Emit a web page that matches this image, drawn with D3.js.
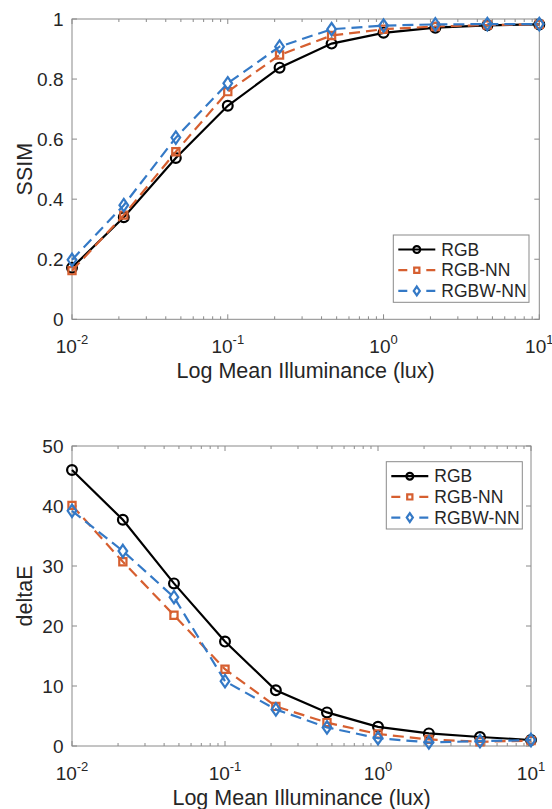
<!DOCTYPE html>
<html>
<head>
<meta charset="utf-8">
<script src="https://cdn.jsdelivr.net/npm/d3@7"></script>
<style>
  html, body { margin: 0; padding: 0; background: #fff; }
  svg { display: block; }
  text { font-family: "Liberation Sans", Arial, Helvetica, sans-serif; fill: #262626; }
</style>
</head>
<body>
<svg id="chart" width="552" height="809"></svg>
<script>
// ---------- data ----------
const illuminance = [0.01, 0.0215, 0.0464, 0.1, 0.215, 0.464, 1, 2.15, 4.64, 10];
const seriesNames = ["RGB", "RGB-NN", "RGBW-NN"];

const ssimRGB    = [0.172, 0.340, 0.537, 0.711, 0.838, 0.918, 0.954, 0.971, 0.979, 0.982];
const ssimRGBNN  = [0.162, 0.347, 0.558, 0.758, 0.880, 0.945, 0.966, 0.975, 0.980, 0.982];
const ssimRGBWNN = [0.198, 0.380, 0.605, 0.786, 0.908, 0.966, 0.978, 0.982, 0.983, 0.983];

const dERGB    = [46.0, 37.7, 27.1, 17.4, 9.3, 5.6, 3.2, 2.1, 1.5, 1.0];
const dERGBNN  = [40.1, 30.7, 21.8, 12.8, 6.6, 3.9, 2.0, 1.1, 0.7, 0.9];
const dERGBWNN = [39.2, 32.5, 24.8, 10.8, 6.1, 3.1, 1.3, 0.6, 0.8, 1.0];

const xTicks = [0.01, 0.1, 1, 10];
const xTickExp = ["-2", "-1", "0", "1"];
const ssimTicks = [0, 0.2, 0.4, 0.6, 0.8, 1];
const ssimTickLabels = ["0", "0.2", "0.4", "0.6", "0.8", "1"];
const dETicks = [0, 10, 20, 30, 40, 50];
const dETickLabels = ["0", "10", "20", "30", "40", "50"];

const xLabel = "Log Mean Illuminance (lux)";

// ---------- styles ----------
const colors = ["#000000", "#d65f30", "#3479c6"];
const dashes = [null, "11,6", "11,6"];
const markers = ["circle", "square", "diamond"];
const axisColor = "#8a8a8a";

const svg = d3.select("#chart");

function markerPath(type, s) {
  if (type === "circle") return d3.symbol().type(d3.symbolCircle).size(Math.PI * s * s)();
  if (type === "square") return `M${-s},${-s}H${s}V${s}H${-s}Z`;
  const w = s * 0.8, h = s * 1.15;
  return `M0,${-h}L${w},0L0,${h}L${-w},0Z`;
}

function drawPanel(cfg) {
  const { left, right, top, bottom, yDomain, yTicks, yTickLabels, yLabel, series, legend } = cfg;
  const x = d3.scaleLog().domain([0.01, 10]).range([left, right]);
  const y = d3.scaleLinear().domain(yDomain).range([bottom, top]);
  const g = svg.append("g");

  const minor = [];
  for (let e = -2; e < 1; e++) for (let m = 2; m <= 9; m++) minor.push(m * Math.pow(10, e));
  g.selectAll(".minb").data(minor).join("line")
    .attr("x1", d => x(d)).attr("x2", d => x(d))
    .attr("y1", bottom).attr("y2", bottom - 3)
    .attr("stroke", axisColor).attr("stroke-width", 1);
  g.selectAll(".mint").data(minor).join("line")
    .attr("x1", d => x(d)).attr("x2", d => x(d))
    .attr("y1", top).attr("y2", top + 3)
    .attr("stroke", axisColor).attr("stroke-width", 1);
  g.selectAll(".majb").data(xTicks).join("line")
    .attr("x1", d => x(d)).attr("x2", d => x(d))
    .attr("y1", bottom).attr("y2", bottom - 5)
    .attr("stroke", axisColor).attr("stroke-width", 1);
  g.selectAll(".majt").data(xTicks).join("line")
    .attr("x1", d => x(d)).attr("x2", d => x(d))
    .attr("y1", top).attr("y2", top + 5)
    .attr("stroke", axisColor).attr("stroke-width", 1);
  g.selectAll(".yl").data(yTicks).join("line")
    .attr("x1", left).attr("x2", left + 5)
    .attr("y1", d => y(d)).attr("y2", d => y(d))
    .attr("stroke", axisColor).attr("stroke-width", 1);
  g.selectAll(".yr").data(yTicks).join("line")
    .attr("x1", right).attr("x2", right - 5)
    .attr("y1", d => y(d)).attr("y2", d => y(d))
    .attr("stroke", axisColor).attr("stroke-width", 1);

  g.append("rect").attr("x", left).attr("y", top)
    .attr("width", right - left).attr("height", bottom - top)
    .attr("fill", "none").attr("stroke", axisColor).attr("stroke-width", 1);

  const xl = g.selectAll(".xtl").data(xTicks).join("text")
    .attr("x", d => x(d)).attr("y", bottom + 33.5)
    .attr("text-anchor", "middle").attr("font-size", 19);
  xl.append("tspan").text("10");
  xl.append("tspan").attr("dy", -9).attr("font-size", 13).text((d, i) => xTickExp[i]);

  g.selectAll(".ytl").data(yTicks).join("text")
    .attr("x", left - 8.5).attr("y", d => y(d) + 6.8)
    .attr("text-anchor", "end").attr("font-size", 19)
    .text((d, i) => yTickLabels[i]);

  g.append("text").attr("x", (left + right) / 2).attr("y", bottom + 58.5)
    .attr("text-anchor", "middle").attr("font-size", 21.5).text(xLabel);
  g.append("text")
    .attr("transform", `translate(31.5,${(top + bottom) / 2}) rotate(-90)`)
    .attr("text-anchor", "middle").attr("font-size", 21.5).text(yLabel);

  const line = d3.line().x((d, i) => x(illuminance[i])).y(d => y(d));
  series.forEach((vals, k) => {
    g.append("path").datum(vals).attr("d", line)
      .attr("fill", "none").attr("stroke", colors[k]).attr("stroke-width", 2.2)
      .attr("stroke-dasharray", dashes[k]);
    g.selectAll(".m" + k).data(vals).join("path")
      .attr("transform", (d, i) => `translate(${x(illuminance[i])},${y(d)})`)
      .attr("d", markerPath(markers[k], markers[k] === "circle" ? 4.9 : (markers[k] === "square" ? 3.6 : 5.4)))
      .attr("fill", "none").attr("stroke", colors[k]).attr("stroke-width", 2.2);
  });

  const lg = g.append("g").attr("transform", `translate(${legend.x},${legend.y})`);
  lg.append("rect").attr("width", legend.w).attr("height", legend.h)
    .attr("fill", "#fff").attr("stroke", axisColor).attr("stroke-width", 1);
  seriesNames.forEach((name, k) => {
    const ry = 14.5 + k * 20.7;
    lg.append("line").attr("x1", 5).attr("x2", 42).attr("y1", ry).attr("y2", ry)
      .attr("stroke", colors[k]).attr("stroke-width", 2.2)
      .attr("stroke-dasharray", k === 0 ? null : "9,19");
    lg.append("path").attr("transform", `translate(23.5,${ry})`)
      .attr("d", markerPath(markers[k], markers[k] === "circle" ? 3.4 : (markers[k] === "square" ? 2.6 : 3.8)))
      .attr("fill", "none").attr("stroke", colors[k]).attr("stroke-width", 2.2);
    lg.append("text").attr("x", 48).attr("y", ry + 6.2).attr("font-size", 17.5).text(name);
  });
}

drawPanel({
  left: 72, right: 539.3, top: 19, bottom: 319.3,
  yDomain: [0, 1], yTicks: ssimTicks, yTickLabels: ssimTickLabels, yLabel: "SSIM",
  series: [ssimRGB, ssimRGBNN, ssimRGBWNN],
  legend: { x: 393.3, y: 235, w: 135.7, h: 67.3 }
});

drawPanel({
  left: 72, right: 531, top: 446, bottom: 746,
  yDomain: [0, 50], yTicks: dETicks, yTickLabels: dETickLabels, yLabel: "deltaE",
  series: [dERGB, dERGBNN, dERGBWNN],
  legend: { x: 386.3, y: 461.7, w: 136, h: 67.3 }
});
</script>
</body>
</html>
